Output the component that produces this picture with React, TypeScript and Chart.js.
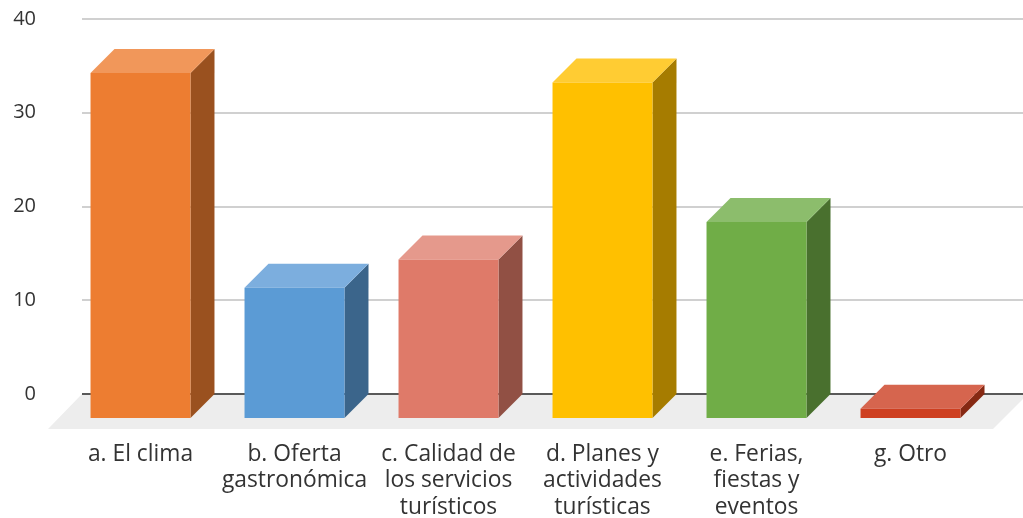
import React, { useEffect, useRef } from "react";
import { Chart, registerables } from "chart.js";

Chart.register(...registerables);

const categories: string[][] = [
  ["a. El clima"],
  ["b. Oferta", "gastronómica"],
  ["c. Calidad de", "los servicios", "turísticos"],
  ["d. Planes y", "actividades", "turísticas"],
  ["e. Ferias,", "fiestas y", "eventos"],
  ["g. Otro"],
];
const values = [36.8, 13.9, 16.9, 35.8, 20.9, 1];
const frontColors = ["#ED7D31", "#5B9BD5", "#DF7A69", "#FFC000", "#70AD47", "#CE3F20"];
const topColors = ["#F1975A", "#7CAEDE", "#E5998C", "#FFCC33", "#8CBD6C", "#D6654E"];
const sideColors = ["#9A511F", "#3B658B", "#915044", "#A67C00", "#49702E", "#862913"];
const yTicks = [0, 10, 20, 30, 40];
const yMax = 40;
const floorValue = -2.56;
const depth = 24;

const box3d = {
  id: "box3d",
  beforeDatasetsDraw(chart: any) {
    const { ctx, scales } = chart;
    const y = scales.y;
    const zero = y.getPixelForValue(0);
    const lineLeft = 82;
    const lineRight = 1023;
    // floor
    ctx.save();
    ctx.fillStyle = "#EDEDED";
    ctx.beginPath();
    ctx.moveTo(lineLeft, zero);
    ctx.lineTo(lineRight, zero);
    ctx.lineTo(1023, 399);
    ctx.lineTo(993, 429);
    ctx.lineTo(48, 429);
    ctx.closePath();
    ctx.fill();
    // grid lines
    for (const t of yTicks) {
      const p = Math.round(y.getPixelForValue(t));
      ctx.fillStyle = t === 0 ? "#595959" : "#D0D0D0";
      ctx.fillRect(lineLeft, p - 1, lineRight - lineLeft, 2);
    }
    // depth faces
    const meta = chart.getDatasetMeta(0);
    meta.data.forEach((bar: any, i: number) => {
      const left = bar.x - bar.width / 2;
      const right = bar.x + bar.width / 2;
      const top = Math.min(bar.y, bar.base);
      const base = Math.max(bar.y, bar.base);
      ctx.fillStyle = sideColors[i];
      ctx.beginPath();
      ctx.moveTo(right, top);
      ctx.lineTo(right + depth, top - depth);
      ctx.lineTo(right + depth, base - depth);
      ctx.lineTo(right, base);
      ctx.closePath();
      ctx.fill();
      ctx.fillStyle = topColors[i];
      ctx.beginPath();
      ctx.moveTo(left, top);
      ctx.lineTo(left + depth, top - depth);
      ctx.lineTo(right + depth, top - depth);
      ctx.lineTo(right, top);
      ctx.closePath();
      ctx.fill();
    });
    ctx.restore();
  },
};

export default function App() {
  const ref = useRef<HTMLCanvasElement>(null);
  useEffect(() => {
    const chart = new Chart(ref.current!, {
      type: "bar",
      data: {
        labels: categories,
        datasets: [
          {
            data: values.map((v) => [floorValue, floorValue + v]) as any,
            backgroundColor: frontColors,
            borderWidth: 0,
            barPercentage: 0.649,
            categoryPercentage: 1,
          },
        ],
      },
      options: {
        responsive: false,
        animation: false,
        layout: { padding: { top: 19, right: 35.5, left: 0, bottom: 0 } },
        plugins: { legend: { display: false }, title: { display: false }, tooltip: { enabled: false } },
        scales: {
          x: {
            grid: { display: false, drawTicks: false },
            border: { display: false },
            ticks: {
              color: "#333333",
              font: { family: "'Open Sans'", size: 22.8, lineHeight: "26.5px" },
              padding: 23,
              maxRotation: 0,
              minRotation: 0,
              autoSkip: false,
            },
            afterFit(s: any) {
              s.height = 100;
              s.paddingLeft = 0;
              s.paddingRight = 0;
            },
          },
          y: {
            min: floorValue,
            max: yMax,
            grid: { display: false, drawTicks: false },
            border: { display: false },
            afterBuildTicks(s: any) {
              s.ticks = yTicks.map((value) => ({ value }));
            },
            ticks: {
              color: "#333333",
              font: { family: "'Open Sans'", size: 20, lineHeight: "26.5px" },
              padding: 27.5,
              autoSkip: false,
            },
            afterFit(s: any) {
              s.width = 63.5;
              s.paddingTop = 0;
              s.paddingBottom = 0;
            },
          },
        },
      },
      plugins: [box3d],
    });
    return () => chart.destroy();
  }, []);
  return (
    <canvas
      ref={ref}
      width={1023}
      height={518}
      style={{ position: "absolute", left: 0, top: 0, display: "block" }}
    />
  );
}
